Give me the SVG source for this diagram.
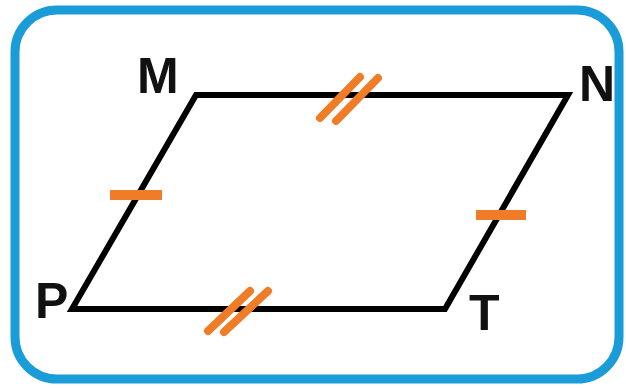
<svg xmlns="http://www.w3.org/2000/svg" width="626" height="388" viewBox="0 0 626 388">
<style>
.frame{fill:#ffffff;stroke:#1a9cd8;stroke-width:9}
.side{fill:none;stroke:#000000;stroke-width:6;stroke-linejoin:miter}
.tick{stroke:#f07c28;stroke-width:8;stroke-linecap:round}
.tickh{stroke:#f07c28;stroke-width:10;stroke-linecap:butt}
.lbl{font-family:"Liberation Sans",Arial,sans-serif;font-weight:bold;font-size:50px;fill:#111111}
</style>
<rect class="frame" x="15" y="10" width="604" height="369" rx="42" ry="42"/>
<g id="connectors">
<path class="side" d="M196,95 L568,95 L445,309 L72,309 Z"/>
</g>
<g id="ticks">
<line class="tick" x1="320" y1="118" x2="360" y2="77"/>
<line class="tick" x1="336" y1="121" x2="378" y2="78"/>
<line class="tick" x1="208" y1="331" x2="250" y2="291"/>
<line class="tick" x1="224" y1="332" x2="268" y2="291"/>
<line class="tickh" x1="110" y1="195" x2="162" y2="195"/>
<line class="tickh" x1="476" y1="215" x2="526" y2="215"/>
</g>
<g id="node-M"><text class="lbl" x="137" y="93">M</text></g>
<g id="node-N"><text class="lbl" x="579" y="101">N</text></g>
<g id="node-P"><text class="lbl" x="35" y="318">P</text></g>
<g id="node-T"><text class="lbl" x="469" y="330">T</text></g>
</svg>
